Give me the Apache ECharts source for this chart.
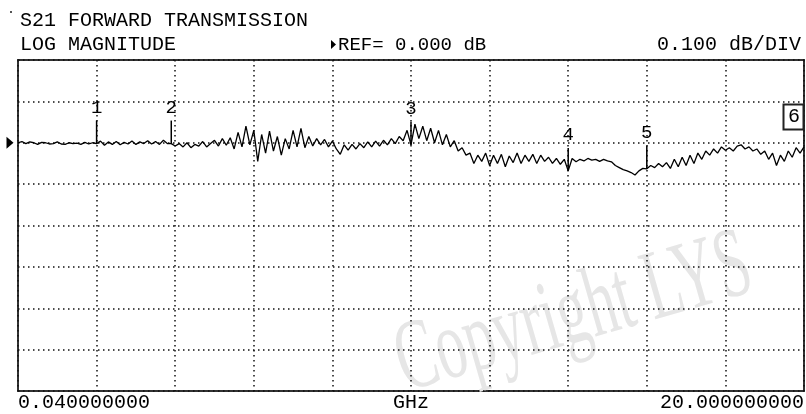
<!DOCTYPE html>
<html>
<head>
<meta charset="utf-8">
<script src="https://cdn.jsdelivr.net/npm/echarts@6/dist/echarts.min.js"></script>
<style>
  html, body { margin: 0; padding: 0; background: #fff; }
  #chart { width: 806px; height: 414px; }
</style>
</head>
<body>
<div id="chart"></div>
<script>
// sweep settings (GHz)
var startFreq = 0.04;
var stopFreq = 20.0;
var startLabel = '0.040000000';
var stopLabel = '20.000000000';

// S21 log magnitude (dB), 201 sweep points
var s21 = [
   0.000,  0.003, -0.002,  0.002,  0.000, -0.004,  0.001,  0.000, -0.003, -0.002,
   0.002, -0.003, -0.004,  0.000, -0.002, -0.001, -0.004,  0.001, -0.003,  0.000,
  -0.002,  0.004, -0.006,  0.002, -0.004,  0.003, -0.005,  0.001, -0.003,  0.004,
  -0.004,  0.002, -0.002,  0.005, -0.003,  0.003, -0.004,  0.006, -0.002, -0.002,
  -0.008, -0.002, -0.010,  0.000, -0.012, -0.004, -0.008,  0.003, -0.010, -0.002,
   0.006, -0.008,  0.010, -0.006,  0.012, -0.015,  0.025, -0.010,  0.040, -0.005,
   0.030, -0.045,  0.020, -0.025,  0.028, -0.020,  0.015, -0.030,  0.010, -0.015,
   0.030, -0.010,  0.035, -0.012,  0.015, -0.008,  0.010, -0.005,  0.008, -0.010,
   0.004, -0.015, -0.028, -0.005, -0.018, -0.004, -0.015, -0.002, -0.012,  0.002,
  -0.010,  0.004, -0.008,  0.006, -0.005,  0.010, -0.002,  0.015,  0.005,  0.030,
  -0.005,  0.045,  0.010,  0.040,  0.005,  0.035,  0.000,  0.030, -0.005,  0.020,
  -0.010,  0.005, -0.020, -0.012, -0.030, -0.025, -0.050, -0.030, -0.045, -0.025,
  -0.055, -0.030, -0.050, -0.028, -0.058, -0.032, -0.048, -0.025, -0.050, -0.030,
  -0.045, -0.028, -0.050, -0.030, -0.045, -0.035, -0.050, -0.038, -0.052, -0.040,
  -0.068, -0.038, -0.046, -0.040, -0.044, -0.038, -0.042, -0.040, -0.045, -0.040,
  -0.044, -0.046, -0.055, -0.060, -0.065, -0.068, -0.072, -0.078, -0.068, -0.062,
  -0.063, -0.055, -0.060, -0.050, -0.058, -0.048, -0.062, -0.040, -0.058, -0.035,
  -0.055, -0.030, -0.050, -0.025, -0.040, -0.020, -0.030, -0.015, -0.025, -0.010,
  -0.018, -0.012, -0.020, -0.008, -0.005, -0.015, -0.010, -0.020, -0.015, -0.028,
  -0.020, -0.040, -0.025, -0.055, -0.030, -0.045, -0.020, -0.035, -0.012, -0.025,
  -0.010
];

// markers: sweep point index of each marker
var markerNames = ['1', '2', '3', '4', '5'];
var markerIdx = [20, 39, 100, 140, 160];

// display scale
var refLevel = 0.0;
var scaleDiv = 0.1;
var divTop = 2;      // ref line position (divisions below top)
var divCount = 8;

var step = (stopFreq - startFreq) / (s21.length - 1);
var trace = s21.map(function (v, i) { return [startFreq + i * step, v]; });
var markers = markerIdx.map(function (k, n) { return [trace[k][0], trace[k][1], markerNames[n]]; });

var monoFont = '"Liberation Mono", "DejaVu Sans Mono", monospace';
var chart = echarts.init(document.getElementById('chart'));

chart.setOption({
  animation: false,
  backgroundColor: '#fff',
  grid: {
    left: 18, top: 60, width: 786, height: 331,
    containLabel: false, outerBoundsMode: 'none',
    show: true, borderColor: '#333', borderWidth: 2, backgroundColor: 'transparent'
  },
  xAxis: [{
    // graticule divisions
    type: 'value', min: 0, max: 10, interval: 1,
    axisLine: { show: false }, axisTick: { show: false },
    splitLine: { show: true, lineStyle: { color: '#111', width: 1.5, type: [1.5, 3.5] } },
    axisLabel: {
      show: true, showMinLabel: true, showMaxLabel: true,
      alignMinLabel: 'left', alignMaxLabel: 'right',
      color: '#000', fontFamily: monoFont, fontSize: 20, margin: 2, lineHeight: 20,
      formatter: function (v) { return v === 0 ? startLabel : (v === 10 ? stopLabel : ''); }
    },
    name: 'GHz', nameLocation: 'middle', nameGap: 2, nameMoveOverlap: false,
    nameTextStyle: { color: '#000', fontFamily: monoFont, fontSize: 20, lineHeight: 20, verticalAlign: 'top' }
  }, {
    type: 'value', min: startFreq, max: stopFreq, show: false
  }],
  yAxis: {
    type: 'value',
    min: refLevel - (divCount - divTop) * scaleDiv,
    max: refLevel + divTop * scaleDiv,
    interval: scaleDiv,
    axisLine: { show: false }, axisTick: { show: false }, axisLabel: { show: false },
    splitLine: { show: true, lineStyle: { color: '#111', width: 1.5, type: [1.5, 3.5] } }
  },
  graphic: [
    { type: 'text', x: 412, y: 414, rotation: 0.28, scaleX: 0.6, z: 0, silent: true,
      style: { text: 'Copyright LYS', font: '100px "Liberation Serif", serif', fill: '#e6e6e6', verticalAlign: 'bottom' } },
    { type: 'text', x: 20, y: 21, style: { text: 'S21 FORWARD TRANSMISSION', font: '20px ' + monoFont, fill: '#000', verticalAlign: 'middle' } },
    { type: 'text', x: 20, y: 45, style: { text: 'LOG MAGNITUDE', font: '20px ' + monoFont, fill: '#000', verticalAlign: 'middle' } },
    { type: 'polygon', shape: { points: [[331, 40], [336, 44.5], [331, 49]] }, style: { fill: '#000' } },
    { type: 'text', x: 338, y: 45, style: { text: 'REF= 0.000 dB', font: '19px ' + monoFont, fill: '#000', verticalAlign: 'middle' } },
    { type: 'text', x: 801, y: 45, style: { text: '0.100 dB/DIV', font: '20px ' + monoFont, fill: '#000', align: 'right', verticalAlign: 'middle' } },
    { type: 'rect', shape: { x: 783.5, y: 104.5, width: 20, height: 25 }, style: { fill: '#fff', stroke: '#222', lineWidth: 2 }, z: 5 },
    { type: 'text', x: 794, y: 117, z: 6, style: { text: '6', font: '20px ' + monoFont, fill: '#000', align: 'center', verticalAlign: 'middle' } },
    { type: 'rect', shape: { x: 10, y: 11, width: 2, height: 2 }, style: { fill: '#555' } }
  ],
  series: [{
    type: 'line', xAxisIndex: 1, data: trace, showSymbol: false, symbol: 'none',
    lineStyle: { color: '#000', width: 1.3 }, z: 3,
    markPoint: {
      silent: true,
      data: [{ coord: [startFreq, refLevel], symbol: 'triangle', symbolSize: [12, 7], symbolRotate: -90, symbolOffset: [-8, 0],
               itemStyle: { color: '#000' }, label: { show: false } }]
    }
  }, {
    type: 'custom', xAxisIndex: 1, data: markers, z: 4, silent: true,
    renderItem: function (params, api) {
      var p = api.coord([api.value(0), api.value(1)]);
      return {
        type: 'group',
        children: [
          { type: 'line', shape: { x1: p[0], y1: p[1], x2: p[0], y2: p[1] - 23 }, style: { stroke: '#000', lineWidth: 1.5 } },
          { type: 'text', x: p[0], y: p[1] - 26,
            style: { text: markerNames[params.dataIndex], font: '19px ' + monoFont, fill: '#000', align: 'center', verticalAlign: 'bottom' } }
        ]
      };
    }
  }]
});
</script>
</body>
</html>
